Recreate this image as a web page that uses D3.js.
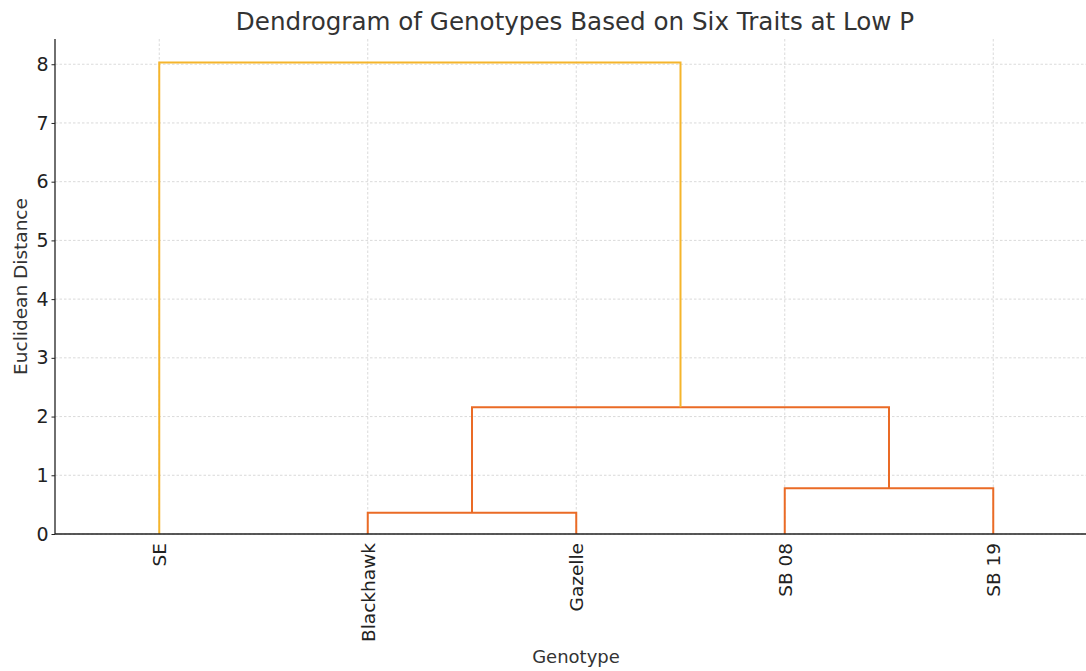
<!DOCTYPE html>
<html>
<head>
<meta charset="utf-8">
<script src="https://cdn.jsdelivr.net/npm/d3@7"></script>
<style>
  html, body { margin: 0; padding: 0; background: #fff; }
  svg { display: block; font-family: "DejaVu Sans", sans-serif; }
</style>
</head>
<body>
<svg id="chart" width="1086" height="671"></svg>
<script>
// ---- data ----
const leaves = ["SE", "Blackhawk", "Gazelle", "SB 08", "SB 19"];
const leafPos = [5, 15, 25, 35, 45];
const yTicks = [0, 1, 2, 3, 4, 5, 6, 7, 8];
// merges: left x, right x, left child height, right child height, merge height, colour group
const linkLeftX   = [15, 35, 20, 5];
const linkRightX  = [25, 45, 40, 30];
const linkLeftH   = [0, 0, 0.36, 0];
const linkRightH  = [0, 0, 0.78, 2.16];
const linkMergeH  = [0.36, 0.78, 2.16, 8.03];
const linkGroup   = ["c1", "c1", "c1", "top"];
const groupColor = { c1: "#ea6b26", top: "#f5b52c" };

const title = "Dendrogram of Genotypes Based on Six Traits at Low P";
const xLabel = "Genotype";
const yLabel = "Euclidean Distance";

// ---- layout ----
const svg = d3.select("#chart");
const pLeft = 55, pRight = 1097.5, pTop = 39, pBottom = 534;
const x = d3.scaleLinear().domain([0, 50]).range([pLeft, pRight]);
const y = d3.scaleLinear().domain([0, 8.43]).range([pBottom, pTop]);

// grid
const grid = svg.append("g");
grid.selectAll("line.hg").data(yTicks).join("line")
  .attr("x1", pLeft).attr("x2", pRight)
  .attr("y1", d => y(d)).attr("y2", d => y(d))
  .attr("stroke", "#d0d0d0").attr("stroke-width", 0.8).attr("stroke-dasharray", "2.5,2");
grid.selectAll("line.vg").data(leafPos).join("line")
  .attr("x1", d => x(d)).attr("x2", d => x(d))
  .attr("y1", pTop).attr("y2", pBottom)
  .attr("stroke", "#d0d0d0").attr("stroke-width", 0.8).attr("stroke-dasharray", "2.5,2");

// links
const links = linkLeftX.map((lx, i) => ({
  lx, rx: linkRightX[i], lh: linkLeftH[i], rh: linkRightH[i], mh: linkMergeH[i], g: linkGroup[i]
}));
svg.append("g").selectAll("path").data(links).join("path")
  .attr("d", d => `M${x(d.lx)},${y(d.lh)}V${y(d.mh)}H${x(d.rx)}V${y(d.rh)}`)
  .attr("fill", "none")
  .attr("stroke", d => groupColor[d.g])
  .attr("stroke-width", 2);

// axes
const yAxis = d3.axisLeft(y).tickValues(yTicks).tickFormat(d3.format("d")).tickSize(3.5).tickPadding(3);
const gy = svg.append("g").attr("transform", `translate(${pLeft},0)`).call(yAxis);
gy.select(".domain").attr("d", `M0,${pTop}V${pBottom}`).attr("stroke", "#222").attr("stroke-width", 1.3);
gy.selectAll(".tick line").attr("stroke", "#222");
gy.selectAll(".tick text").attr("font-size", 19).attr("fill", "#222").attr("font-family", "DejaVu Sans");

const xAxis = d3.axisBottom(x).tickValues(leafPos).tickFormat((d, i) => leaves[i]).tickSize(0);
const gx = svg.append("g").attr("transform", `translate(0,${pBottom})`).call(xAxis);
gx.select(".domain").attr("d", `M${pLeft},0H${pRight}`).attr("stroke", "#222").attr("stroke-width", 1.3);
gx.selectAll(".tick text")
  .attr("font-size", 18.5).attr("fill", "#222").attr("font-family", "DejaVu Sans")
  .attr("transform", "rotate(-90)")
  .attr("text-anchor", "end")
  .attr("x", -9).attr("y", 0).attr("dy", "0.35em");

// titles
svg.append("text").attr("x", 575).attr("y", 30).attr("text-anchor", "middle")
  .attr("font-size", 24.6).attr("fill", "#333").text(title);
svg.append("text").attr("x", 576).attr("y", 663).attr("text-anchor", "middle")
  .attr("font-size", 18).attr("fill", "#333").text(xLabel);
svg.append("text").attr("transform", `translate(27,${(pTop + pBottom) / 2}) rotate(-90)`)
  .attr("text-anchor", "middle").attr("font-size", 18.5).attr("fill", "#333").text(yLabel);
</script>
</body>
</html>
